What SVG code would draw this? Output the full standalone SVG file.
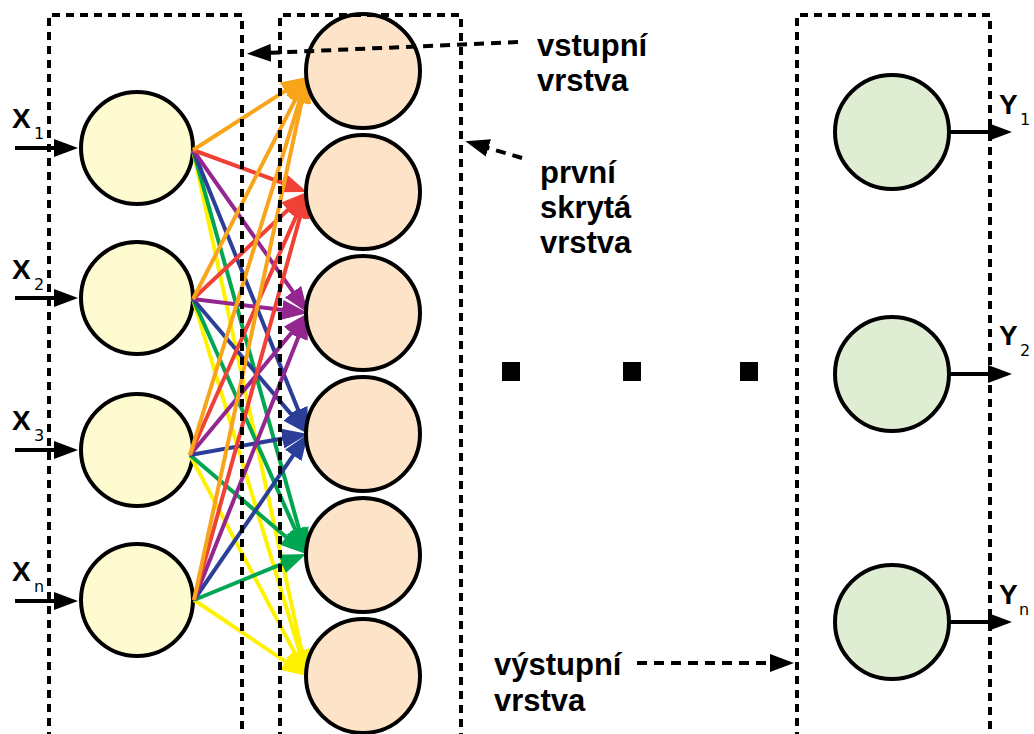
<svg xmlns="http://www.w3.org/2000/svg" width="1034" height="734" viewBox="0 0 1034 734">
  <style>
    .node { stroke: #000; stroke-width: 4; }
    .in { fill: #fffbd0; }
    .hid { fill: #fde4c9; }
    .out { fill: #dfedd3; }
    .box { fill: none; stroke: #000; stroke-width: 4; stroke-dasharray: 8 6; }
    .note { fill: none; stroke: #000; stroke-width: 4; stroke-dasharray: 10 7; }
    .io { stroke: #000; stroke-width: 4; }
    .lbl { font-family: "Liberation Sans", Arial, sans-serif; font-weight: bold; font-size: 31px; fill: #000; }
    .var { font-family: "Liberation Sans", Arial, sans-serif; font-weight: bold; font-size: 28px; fill: #000; }
    .sub { font-family: "DejaVu Sans", "Liberation Sans", sans-serif; font-size: 16px; fill: #000; }
    .c1 { stroke: #f8a51b; } .c2 { stroke: #ef4136; } .c3 { stroke: #93278f; }
    .c4 { stroke: #2b3f98; } .c5 { stroke: #00a651; } .c6 { stroke: #fff200; }
    .edges line { stroke-width: 4; }
  </style>
  <defs>
    <marker id="hOrange" markerUnits="userSpaceOnUse" markerWidth="26" markerHeight="20" refX="16" refY="10" orient="auto"><path d="M0,0 L26,10 L0,20 z" fill="#f8a51b"/></marker>
    <marker id="hRed" markerUnits="userSpaceOnUse" markerWidth="26" markerHeight="20" refX="16" refY="10" orient="auto"><path d="M0,0 L26,10 L0,20 z" fill="#ef4136"/></marker>
    <marker id="hPurple" markerUnits="userSpaceOnUse" markerWidth="26" markerHeight="20" refX="16" refY="10" orient="auto"><path d="M0,0 L26,10 L0,20 z" fill="#93278f"/></marker>
    <marker id="hBlue" markerUnits="userSpaceOnUse" markerWidth="26" markerHeight="20" refX="16" refY="10" orient="auto"><path d="M0,0 L26,10 L0,20 z" fill="#2b3f98"/></marker>
    <marker id="hGreen" markerUnits="userSpaceOnUse" markerWidth="26" markerHeight="20" refX="16" refY="10" orient="auto"><path d="M0,0 L26,10 L0,20 z" fill="#00a651"/></marker>
    <marker id="hYellow" markerUnits="userSpaceOnUse" markerWidth="26" markerHeight="20" refX="16" refY="10" orient="auto"><path d="M0,0 L26,10 L0,20 z" fill="#fff200"/></marker>
    <marker id="hBlack" markerUnits="userSpaceOnUse" markerWidth="24" markerHeight="18" refX="14" refY="9" orient="auto"><path d="M0,0 L24,9 L0,18 z" fill="#000"/></marker>
  </defs>

  <!-- input nodes -->
  <g id="x1"><circle class="node in" cx="137" cy="148" r="56"/></g>
  <g id="x2"><circle class="node in" cx="137" cy="298" r="56"/></g>
  <g id="x3"><circle class="node in" cx="137" cy="450" r="56"/></g>
  <g id="xn"><circle class="node in" cx="137" cy="600" r="56"/></g>

  <!-- input arrows and labels -->
  <g id="inputs">
    <line class="io" x1="15" y1="148" x2="68" y2="148" marker-end="url(#hBlack)"/>
    <line class="io" x1="15" y1="298" x2="68" y2="298" marker-end="url(#hBlack)"/>
    <line class="io" x1="15" y1="450" x2="68" y2="450" marker-end="url(#hBlack)"/>
    <line class="io" x1="15" y1="601" x2="68" y2="601" marker-end="url(#hBlack)"/>
    <text class="var" x="12" y="128">X</text><text class="sub" x="34" y="139">1</text>
    <text class="var" x="12" y="279">X</text><text class="sub" x="34" y="290">2</text>
    <text class="var" x="12" y="430">X</text><text class="sub" x="34" y="441">3</text>
    <text class="var" x="12" y="581">X</text><text class="sub" x="34" y="592">n</text>
  </g>

  <!-- weighted connections input -> first hidden layer -->
  <g id="edges" class="edges">
    <line class="c6" x1="193" y1="150" x2="304.9" y2="666.2" marker-end="url(#hYellow)"/>
    <line class="c6" x1="193" y1="299" x2="304.1" y2="666.4" marker-end="url(#hYellow)"/>
    <line class="c6" x1="190" y1="455" x2="302.3" y2="667.2" marker-end="url(#hYellow)"/>
    <line class="c6" x1="194" y1="600" x2="298.7" y2="670.4" marker-end="url(#hYellow)"/>
    <line class="c5" x1="193" y1="150" x2="303.3" y2="544.4" marker-end="url(#hGreen)"/>
    <line class="c5" x1="193" y1="299" x2="302.0" y2="544.9" marker-end="url(#hGreen)"/>
    <line class="c5" x1="190" y1="455" x2="298.4" y2="547.5" marker-end="url(#hGreen)"/>
    <line class="c5" x1="194" y1="600" x2="296.8" y2="557.8" marker-end="url(#hGreen)"/>
    <line class="c4" x1="193" y1="150" x2="304.2" y2="424.7" marker-end="url(#hBlue)"/>
    <line class="c4" x1="193" y1="299" x2="301.5" y2="426.4" marker-end="url(#hBlue)"/>
    <line class="c4" x1="190" y1="455" x2="298.2" y2="435.8" marker-end="url(#hBlue)"/>
    <line class="c4" x1="194" y1="600" x2="302.3" y2="442.2" marker-end="url(#hBlue)"/>
    <line class="c3" x1="193" y1="150" x2="302.2" y2="304.8" marker-end="url(#hPurple)"/>
    <line class="c3" x1="193" y1="299" x2="298.1" y2="311.8" marker-end="url(#hPurple)"/>
    <line class="c3" x1="190" y1="455" x2="301.6" y2="320.7" marker-end="url(#hPurple)"/>
    <line class="c3" x1="194" y1="600" x2="304.3" y2="322.3" marker-end="url(#hPurple)"/>
    <line class="c2" x1="193" y1="150" x2="297.6" y2="188.5" marker-end="url(#hRed)"/>
    <line class="c2" x1="193" y1="299" x2="299.7" y2="198.8" marker-end="url(#hRed)"/>
    <line class="c2" x1="190" y1="455" x2="302.9" y2="201.1" marker-end="url(#hRed)"/>
    <line class="c2" x1="194" y1="600" x2="304.3" y2="201.6" marker-end="url(#hRed)"/>
    <line class="c1" x1="193" y1="150" x2="298.6" y2="82.4" marker-end="url(#hOrange)"/>
    <line class="c1" x1="193" y1="299" x2="302.4" y2="85.9" marker-end="url(#hOrange)"/>
    <line class="c1" x1="190" y1="455" x2="304.0" y2="86.6" marker-end="url(#hOrange)"/>
    <line class="c1" x1="194" y1="600" x2="304.9" y2="86.8" marker-end="url(#hOrange)"/>
  </g>

  <!-- first hidden layer -->
  <g id="h1"><circle class="node hid" cx="363" cy="71" r="57"/></g>
  <g id="h2"><circle class="node hid" cx="363" cy="192" r="57"/></g>
  <g id="h3"><circle class="node hid" cx="363" cy="313" r="57"/></g>
  <g id="h4"><circle class="node hid" cx="363" cy="434" r="57"/></g>
  <g id="h5"><circle class="node hid" cx="363" cy="555" r="57"/></g>
  <g id="h6"><circle class="node hid" cx="363" cy="676" r="57"/></g>

  <!-- ellipsis between layers -->
  <g id="ellipsis" fill="#000">
    <rect x="502" y="362" width="18" height="19"/>
    <rect x="623" y="362" width="18" height="19"/>
    <rect x="740" y="362" width="18" height="19"/>
  </g>

  <!-- output nodes -->
  <g id="y1"><circle class="node out" cx="892" cy="132" r="57"/></g>
  <g id="y2"><circle class="node out" cx="892" cy="374" r="57"/></g>
  <g id="yn"><circle class="node out" cx="892" cy="622" r="57"/></g>

  <g id="outputs">
    <line class="io" x1="948" y1="132" x2="1002" y2="132" marker-end="url(#hBlack)"/>
    <line class="io" x1="948" y1="374" x2="1002" y2="374" marker-end="url(#hBlack)"/>
    <line class="io" x1="948" y1="622" x2="1002" y2="622" marker-end="url(#hBlack)"/>
    <text class="var" x="999" y="114">Y</text><text class="sub" x="1020" y="125">1</text>
    <text class="var" x="999" y="345">Y</text><text class="sub" x="1020" y="356">2</text>
    <text class="var" x="999" y="604">Y</text><text class="sub" x="1019" y="615">n</text>
  </g>

  <!-- layer frames -->
  <g id="frames">
    <path class="box" d="M49,740 V15 H242 V740"/>
    <path class="box" d="M280,740 V15 H461 V740"/>
    <path class="box" d="M797,740 V15 H990 V740"/>
  </g>

  <!-- layer annotations -->
  <g id="annotations">
    <line class="note" x1="518" y1="42" x2="257" y2="53.4" marker-end="url(#hBlack)"/>
    <line class="note" x1="522" y1="158" x2="475" y2="144" marker-end="url(#hBlack)"/>
    <line class="note" x1="637" y1="663" x2="784" y2="663" marker-end="url(#hBlack)"/>
    <text class="lbl" x="537" y="56">vstupní</text>
    <text class="lbl" x="537" y="91">vrstva</text>
    <text class="lbl" x="540" y="183">první</text>
    <text class="lbl" x="540" y="218">skrytá</text>
    <text class="lbl" x="540" y="253">vrstva</text>
    <text class="lbl" x="494" y="675">výstupní</text>
    <text class="lbl" x="494" y="711">vrstva</text>
  </g>
</svg>
